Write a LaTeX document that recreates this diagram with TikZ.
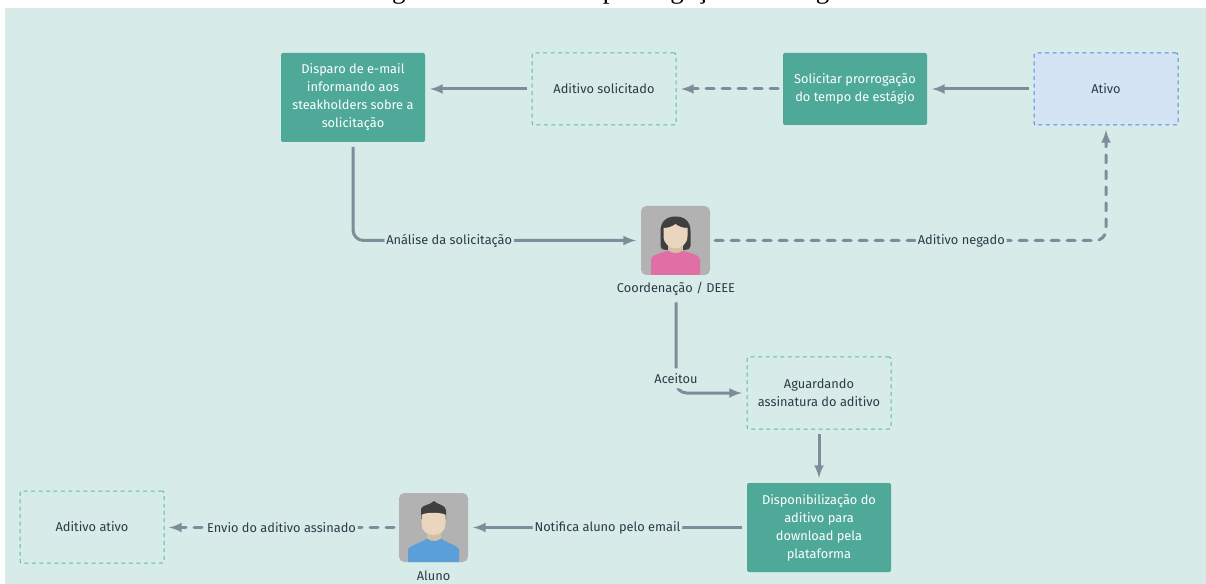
\documentclass[tikz,border=0pt]{standalone}
\usepackage{fontspec}
\setmainfont{Fira Sans}
\newfontfamily\titlefont{Liberation Serif}
\usetikzlibrary{arrows}
\definecolor{bgC}{HTML}{D7EBE9}
\definecolor{stepC}{HTML}{4FA999}
\definecolor{dashC}{HTML}{5CBBA5}
\definecolor{activeC}{HTML}{D4E4F5}
\definecolor{activeD}{HTML}{4A8FE0}
\definecolor{lineC}{HTML}{7F8C99}
\definecolor{textC}{HTML}{2E3A45}
\definecolor{iconC}{HTML}{B2B2B2}
\definecolor{hairC}{HTML}{3F3F3F}
\definecolor{faceC}{HTML}{EAD5BF}
\definecolor{neckC}{HTML}{D4BFA3}
\definecolor{pinkC}{HTML}{E06FA6}
\definecolor{blueC}{HTML}{5A9FD8}
\tikzset{
  boxtext/.style={font=\fontsize{9.6}{13.5}\selectfont, align=center, inner sep=0pt, outer sep=3.75pt},
  solidbox/.style={boxtext, fill=stepC, text=white, rounded corners=1.5pt, minimum width=108pt, minimum height=66.75pt},
  dashbox/.style={boxtext, draw=dashC, line width=0.75pt, dash pattern=on 3pt off 2.6pt, text=textC, rounded corners=1.5pt, minimum width=108pt, minimum height=54pt},
  activebox/.style={dashbox, draw=activeD, fill=activeC},
  iconbox/.style={fill=iconC, rounded corners=4pt, minimum size=51.75pt, inner sep=0pt, outer sep=3.75pt},
  iconlabel/.style={font=\fontsize{9.6}{11}\selectfont, text=textC, inner sep=2pt, outer sep=3pt},
  flow/.style={draw=lineC, line width=2.25pt, -latex, rounded corners=8pt},
  flowdash/.style={flow, line cap=round, dash pattern=on 6pt off 6pt},
  flowlabel/.style={font=\fontsize{9.6}{11}\selectfont, text=textC, fill=bgC, inner xsep=1.5pt, inner ysep=0pt, minimum height=15pt}
}
\begin{document}
\begin{tikzpicture}[x=0.75pt,y=-0.75pt]
\useasboundingbox (0,0) rectangle (1206,584);
% caption above the panel, only its descenders fall on the page
\node[font=\titlefont\fontsize{20.25}{22}\selectfont, anchor=base, inner sep=0pt] (caption) at (610,-1.5) {Figura 12 – Fluxo de prorrogação do estágio};
\fill[bgC] (5,8) rectangle (1206,584);

\node[solidbox] (disparo) at (353,97.5) {Disparo de e-mail\\informando aos\\steakholders sobre a\\solicitação};
\node[dashbox] (solicitado) at (604,89) {Aditivo solicitado};
\node[solidbox, minimum height=54pt] (solicitar) at (855,89) {Solicitar prorrogação\\do tempo de estágio};
\node[activebox] (ativo) at (1106,89) {Ativo};
\node[dashbox] (aguardando) at (819,393) {Aguardando\\assinatura do aditivo};
\node[solidbox] (disponivel) at (819,527.5) {Disponibilização do\\aditivo para\\download pela\\plataforma};
\node[dashbox] (ativado) at (92,527) {Aditivo ativo};

% coordenacao
\node[iconbox] (coord) at (675.5,240.5) {};
\node[iconlabel] (coordLabel) at (676,289) {Coordenação / DEEE};
\fill[hairC] (660.5,250) -- (660.5,231) .. controls (660.5,221) and (667,216.5) .. (675.5,216.5) .. controls (684,216.5) and (690.5,221) .. (690.5,231) -- (690.5,246) .. controls (690.5,249) and (688,250) .. (685,250) -- (666,250) .. controls (663,250) and (660.5,249) .. (660.5,246) -- cycle;
\fill[neckC] (668,240) rectangle (683,254);
\fill[pinkC] (651,275) -- (651,259) .. controls (651,255) and (662,253) .. (668,250.5) .. controls (672,254) and (679,254) .. (683,250.5) .. controls (689,253) and (700,255) .. (700,259) -- (700,275) -- cycle;
\fill[faceC] (663.5,228) .. controls (669,228) and (673,226) .. (675.5,224) .. controls (678,226) and (682,228) .. (687.5,228) -- (687.5,236) .. controls (687.5,244) and (681,248.5) .. (675.5,248.5) .. controls (670,248.5) and (663.5,244) .. (663.5,236) -- cycle;

% aluno
\node[iconbox] (aluno) at (433.5,527.5) {};
\node[iconlabel] (alunoLabel) at (433.5,576) {Aluno};
\fill[neckC] (427,525) rectangle (441,544);
\fill[blueC] (408,562) -- (408,550) .. controls (408,546) and (421,543) .. (427,538.5) .. controls (431,542) and (437,542) .. (441,538.5) .. controls (447,543) and (459,546) .. (459,550) -- (459,562) -- cycle;
\fill[hairC] (421,519) -- (421,509) .. controls (423,504) and (429,506) .. (434,501) .. controls (436,504) and (446,505) .. (446,510) -- (446,519) -- cycle;
\fill[faceC] (421.5,515) .. controls (425,512) and (442,512) .. (445.5,515) -- (445.5,524) .. controls (445.5,531) and (440,535) .. (433.5,535) .. controls (427,535) and (421.5,531) .. (421.5,524) -- cycle;

\draw[flow] (ativo.west) -- (solicitar.east);
\draw[flowdash] (solicitar.west) -- (solicitado.east);
\draw[flow] (solicitado.west) -- (disparo.east |- solicitado.west);
\draw[flow] (disparo.south) |- (coord.west) node[flowlabel, pos=0.67] (analise) {Análise da solicitação};
\draw[flowdash] (coord.east) -| (ativo.south) node[flowlabel, pos=0.315] (negado) {Aditivo negado};
\draw[flow] (coordLabel.south) |- (aguardando.west) node[flowlabel, pos=0.42] (aceitou) {Aceitou};
\draw[flow] (aguardando.south) -- (disponivel.north);
\draw[flow] (disponivel.west) -- (aluno.east) node[flowlabel, midway] (notifica) {Notifica aluno pelo email};
\draw[flowdash] (aluno.west) -- (ativado.east |- aluno.west) node[flowlabel, midway] (envio) {Envio do aditivo assinado};
\end{tikzpicture}
\end{document}
